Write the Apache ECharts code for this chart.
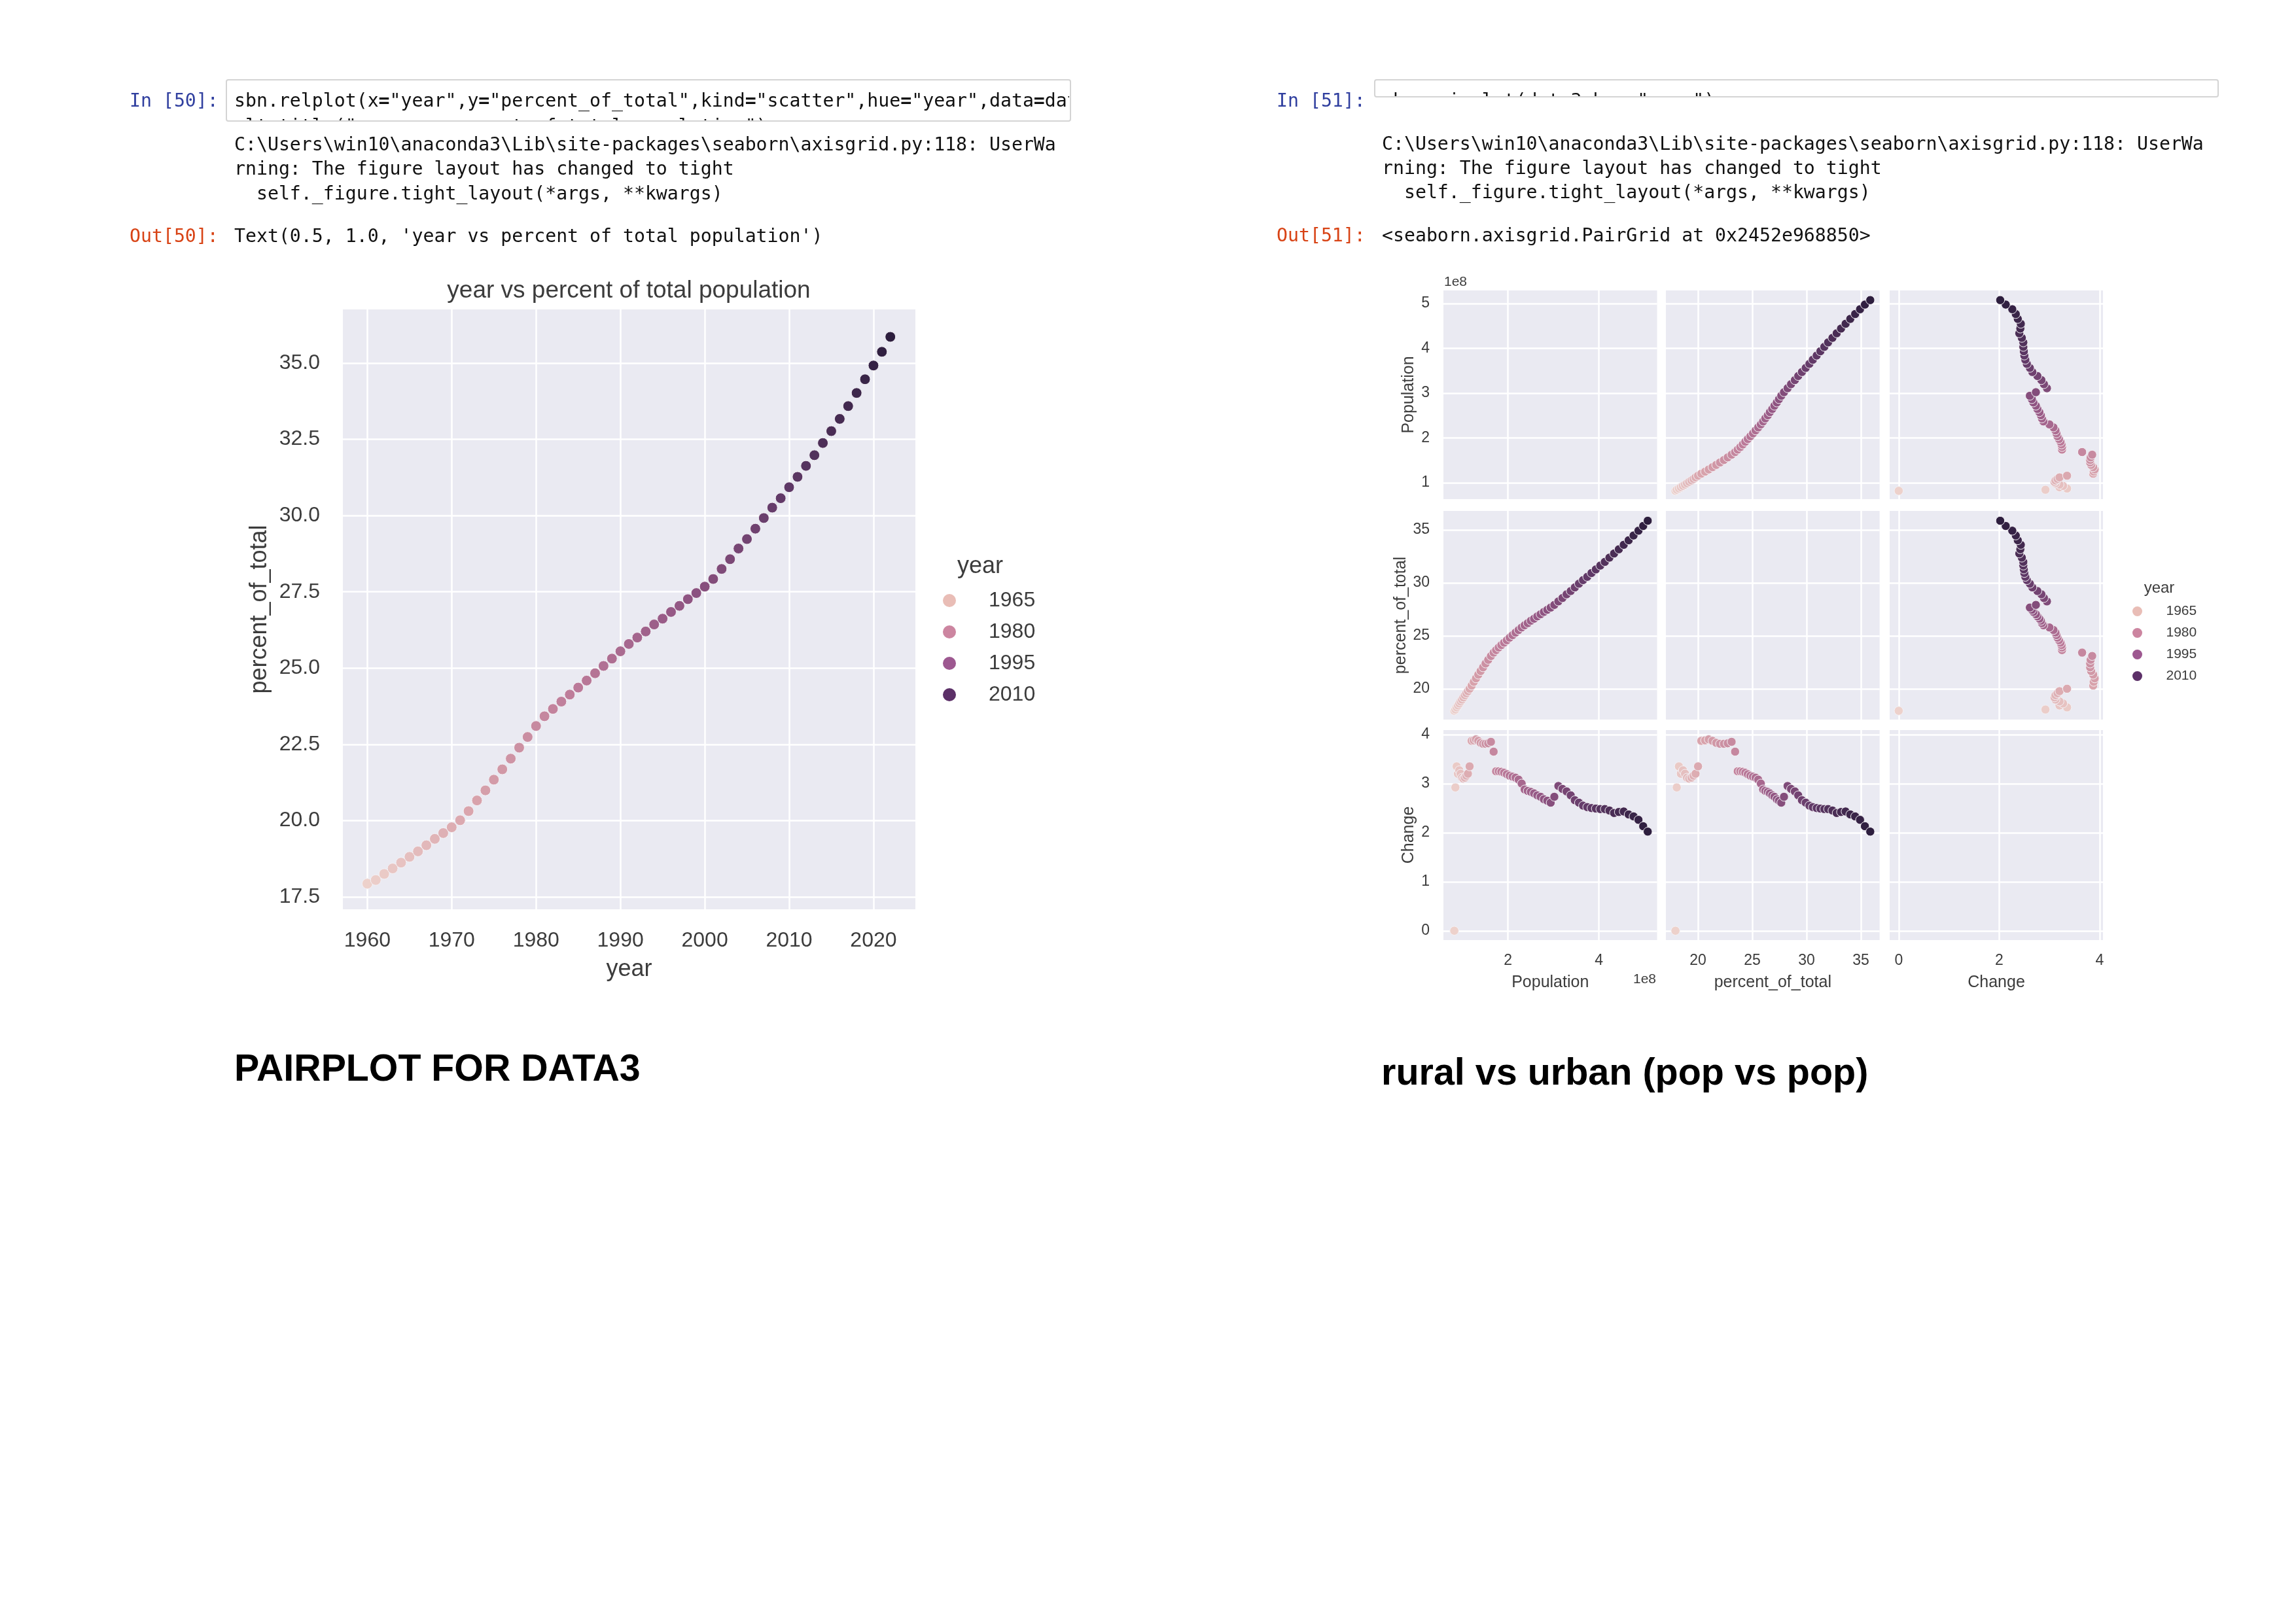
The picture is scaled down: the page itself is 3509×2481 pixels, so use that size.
<!DOCTYPE html>
<html><head><meta charset="utf-8">
<style>html,body{margin:0;padding:0;background:#fff}#c{width:3509px;height:2481px}</style>
<script src="https://cdn.jsdelivr.net/npm/echarts@6/dist/echarts.min.js"></script>
</head><body><div id="c"></div>
<script>
const years = [1960,1961,1962,1963,1964,1965,1966,1967,1968,1969,1970,1971,1972,1973,1974,1975,1976,1977,1978,1979,1980,1981,1982,1983,1984,1985,1986,1987,1988,1989,1990,1991,1992,1993,1994,1995,1996,1997,1998,1999,2000,2001,2002,2003,2004,2005,2006,2007,2008,2009,2010,2011,2012,2013,2014,2015,2016,2017,2018,2019,2020,2021,2022];
const percentOfTotal = [17.93,18.05,18.25,18.43,18.62,18.81,18.99,19.19,19.40,19.59,19.78,20.01,20.31,20.66,20.99,21.34,21.68,22.03,22.39,22.74,23.10,23.42,23.66,23.90,24.13,24.36,24.59,24.83,25.07,25.31,25.55,25.79,26.00,26.20,26.43,26.62,26.84,27.04,27.26,27.46,27.67,27.92,28.25,28.57,28.92,29.23,29.57,29.92,30.26,30.57,30.93,31.27,31.63,31.98,32.38,32.77,33.17,33.59,34.02,34.47,34.92,35.37,35.86];
const populationE8 = [0.820,0.844,0.872,0.900,0.930,0.959,0.989,1.020,1.052,1.085,1.120,1.157,1.202,1.249,1.297,1.348,1.399,1.453,1.508,1.566,1.626,1.685,1.740,1.797,1.855,1.915,1.976,2.038,2.102,2.168,2.235,2.302,2.368,2.436,2.505,2.575,2.646,2.718,2.791,2.865,2.940,3.020,3.109,3.199,3.290,3.381,3.471,3.562,3.652,3.744,3.838,3.933,4.031,4.131,4.232,4.334,4.439,4.547,4.655,4.763,4.871,4.975,5.075];
const change = [0,2.92,3.35,3.20,3.27,3.20,3.12,3.10,3.12,3.16,3.20,3.35,3.87,3.88,3.90,3.87,3.83,3.81,3.81,3.82,3.85,3.65,3.25,3.25,3.24,3.22,3.19,3.16,3.14,3.12,3.08,3.00,2.88,2.85,2.83,2.80,2.76,2.73,2.68,2.65,2.61,2.73,2.95,2.89,2.84,2.76,2.66,2.61,2.55,2.52,2.50,2.49,2.48,2.48,2.45,2.40,2.42,2.43,2.37,2.33,2.26,2.13,2.02];
const legendYears = ['1965','1980','1995','2010'];
const legendColors = ['#e9bdb6','#cc85a0','#9d5890','#5c3068'];
const hueStops = ['#edd1cb','#d9a4ac','#bc7a99','#925684','#603967','#2d1e3e'];
const xTicksLeft = [1960,1970,1980,1990,2000,2010,2020];
const yTicksLeft = [17.5,20,22.5,25,27.5,30,32.5,35];
const pairNames = ['Population','percent_of_total','Change'];
const pairData = [populationE8, percentOfTotal, change];
const pairTicksX = [[2,4],[20,25,30,35],[0,2,4]];
const pairTicksY = [[1,2,3,4,5],[20,25,30,35],[0,1,2,3,4]];

const FONT = '"Liberation Sans"', MONO = '"DejaVu Sans Mono"';
const TICK = '#3c3c3c', BG = '#eaeaf2';
const grids = [], xAxes = [], yAxes = [], series = [], scatterIdx = [];
function axisBase(gridIndex, min, max, ticks, fs, margin, show, fmt, name, gap, nameSize){
  return {gridIndex, type:'value', min, max, name: name||'', nameLocation:'middle', nameGap:gap||0, nameMoveOverlap:false,
    nameTextStyle:{fontFamily:FONT,fontSize:nameSize,color:TICK},
    axisLine:{show:false}, axisTick:{show:false, customValues:ticks},
    axisLabel:{show, customValues:ticks, fontFamily:FONT, fontSize:fs, color:TICK, margin, formatter:fmt},
    splitLine:{show:true, lineStyle:{color:'#ffffff', width:2.5}}};
}
// left relplot
grids.push({left:524, top:473, width:875, height:917, show:true, backgroundColor:BG, borderWidth:0});
xAxes.push(axisBase(0,1957.1,2024.97,xTicksLeft,32,32,true,v=>String(v),'year',74,36));
yAxes.push(axisBase(0,17.09,36.76,yTicksLeft,32,35,true,v=>v.toFixed(1),'percent_of_total',109,36));
function pts(xs,ys){return xs.map((x,i)=>[x,ys[i],years[i]]);}
scatterIdx.push(series.length);
series.push({type:'scatter',xAxisIndex:0,yAxisIndex:0,symbolSize:16,itemStyle:{borderColor:'#f4f2f6',borderWidth:1,opacity:1},
  data:pts(years,percentOfTotal)});
// pair grid
const colL=[2206,2546,2888], colW=[326.5,326.6,326];
const rowT=[444,781,1116], rowH=[319,319,321];
const xRange=[[0.581,5.28],[17.05,36.72],[-0.18,4.065]];
const yRange=[[0.635,5.29],[17.1,36.79],[-0.19,4.09]];
const xGap=[53,53,53], yGap=[40,52,40];
for(let r=0;r<3;r++)for(let c=0;c<3;c++){
  const gi=grids.length;
  grids.push({left:colL[c],top:rowT[r],width:colW[c],height:rowH[r],show:true,backgroundColor:BG,borderWidth:0});
  const bottom=r===2,leftC=c===0;
  xAxes.push(axisBase(gi,xRange[c][0],xRange[c][1],pairTicksX[c],23,20,bottom,v=>String(v),bottom?pairNames[c]:'',xGap[c],25));
  yAxes.push(axisBase(gi,yRange[r][0],yRange[r][1],pairTicksY[r],23,21,leftC,v=>String(v),leftC?pairNames[r]:'',yGap[r],25));
  if(r!==c){
    scatterIdx.push(series.length);
    series.push({type:'scatter',xAxisIndex:gi,yAxisIndex:gi,symbolSize:13.5,itemStyle:{borderColor:'#f4f2f6',borderWidth:1,opacity:1},
      data:pts(pairData[c],pairData[r])});
  }
}
// legend carrier series (no marks of their own)
legendYears.forEach((y,i)=>series.push({type:'scatter',name:y,xAxisIndex:0,yAxisIndex:0,data:[],itemStyle:{color:legendColors[i],opacity:1}}));

// notebook text
function t(x,y,text,size,color,extra){
  return Object.assign({type:'text',x,y,z:30,style:Object.assign({text,fontFamily:MONO,fontSize:size,fill:color,textVerticalAlign:'middle',textAlign:'left'},extra&&extra.style||{})},extra&&extra.root||{});
}
const CODE=28.2;
const rich={k:{fontFamily:MONO,fontSize:CODE,color:'#111'},s:{fontFamily:MONO,fontSize:CODE,color:'#ba2121'},p:{fontFamily:MONO,fontSize:CODE,fontWeight:'bold',color:'#aa22ff'}};
const warn1='C:\\Users\\win10\\anaconda3\\Lib\\site-packages\\seaborn\\axisgrid.py:118: UserWa';
const warn2='rning: The figure layout has changed to tight';
const warn3='  self._figure.tight_layout(*args, **kwargs)';
const IN='#303f9f', OUT='#d84315';
const clipped={root:{z:10},style:{rich}};
const gfx=[
  t(198,156,'In [50]:',CODE,IN),
  t(358,156,'{k|sbn.relplot(x}{p|=}{s|"year"}{k|,y}{p|=}{s|"percent_of_total"}{k|,kind}{p|=}{s|"scatter"}{k|,hue}{p|=}{s|"year"}{k|,data}{p|=}{k|data3)}',CODE,'#111',clipped),
  t(358,195,'{k|plt.title(}{s|"year vs percent of total population"}{k|)}',CODE,'#111',clipped),
  {type:'rect',z:20,shape:{x:349,y:184,width:1290,height:30},style:{fill:'#fff'}},
  {type:'rect',z:20,shape:{x:1634,y:124,width:120,height:60},style:{fill:'#fff'}},
  {type:'rect',z:21,shape:{x:346,y:122,width:1290,height:63,r:3},style:{fill:'none',stroke:'#d4d4d4',lineWidth:2}},
  t(358,223,warn1,CODE,'#111'),t(358,260,warn2,CODE,'#111'),t(358,298,warn3,CODE,'#111'),
  t(198,363,'Out[50]:',CODE,OUT),
  t(358,363,"Text(0.5, 1.0, 'year vs percent of total population')",CODE,'#111'),
  t(1951,156,'In [51]:',CODE,IN),
  t(2112,156,'{k|sbn.pairplot(data3,hue}{p|=}{s|"year"}{k|)}',CODE,'#111',clipped),
  {type:'rect',z:20,shape:{x:2103,y:147,width:1294,height:30},style:{fill:'#fff'}},
  {type:'rect',z:21,shape:{x:2101,y:122,width:1289,height:26,r:3},style:{fill:'none',stroke:'#d4d4d4',lineWidth:2}},
  t(2112,222,warn1,CODE,'#111'),t(2112,259,warn2,CODE,'#111'),t(2112,296,warn3,CODE,'#111'),
  t(1951,362,'Out[51]:',CODE,OUT),
  t(2112,362,'<seaborn.axisgrid.PairGrid at 0x2452e968850>',CODE,'#111'),
  t(358,1636,'PAIRPLOT FOR DATA3',57.3,'#000',{style:{fontFamily:FONT,fontWeight:'bold'}}),
  t(2111,1642,'rural vs urban (pop vs pop)',57.5,'#000',{style:{fontFamily:FONT,fontWeight:'bold'}}),
  t(961,445,'year vs percent of total population',37,TICK,{style:{fontFamily:FONT,textAlign:'center'}}),
  t(1498,866,'year',36,TICK,{style:{fontFamily:FONT,textAlign:'center'}}),
  t(3300,899,'year',24,TICK,{style:{fontFamily:FONT,textAlign:'center'}}),
  t(2207,431,'1e8',21,TICK,{style:{fontFamily:FONT}}),
  t(2531,1497,'1e8',21,TICK,{style:{fontFamily:FONT,textAlign:'right'}})
];

const chart=echarts.init(document.getElementById('c'),null,{renderer:'canvas',width:3509,height:2481});
chart.setOption({
  backgroundColor:'#ffffff',animation:false,
  grid:grids,xAxis:xAxes,yAxis:yAxes,series,
  visualMap:[{type:'continuous',show:false,dimension:2,min:1960,max:2022,seriesIndex:scatterIdx,inRange:{color:hueStops}}],
  legend:[
    {data:legendYears,orient:'vertical',left:1436,top:897,itemWidth:110,itemHeight:20,itemGap:16,icon:'circle',selectedMode:false,textStyle:{fontFamily:FONT,fontSize:32,color:TICK}},
    {data:legendYears,orient:'vertical',left:3254,top:919,itemWidth:78,itemHeight:15,itemGap:12,icon:'circle',selectedMode:false,textStyle:{fontFamily:FONT,fontSize:21,color:TICK}}
  ],
  graphic:gfx
});
</script></body></html>
